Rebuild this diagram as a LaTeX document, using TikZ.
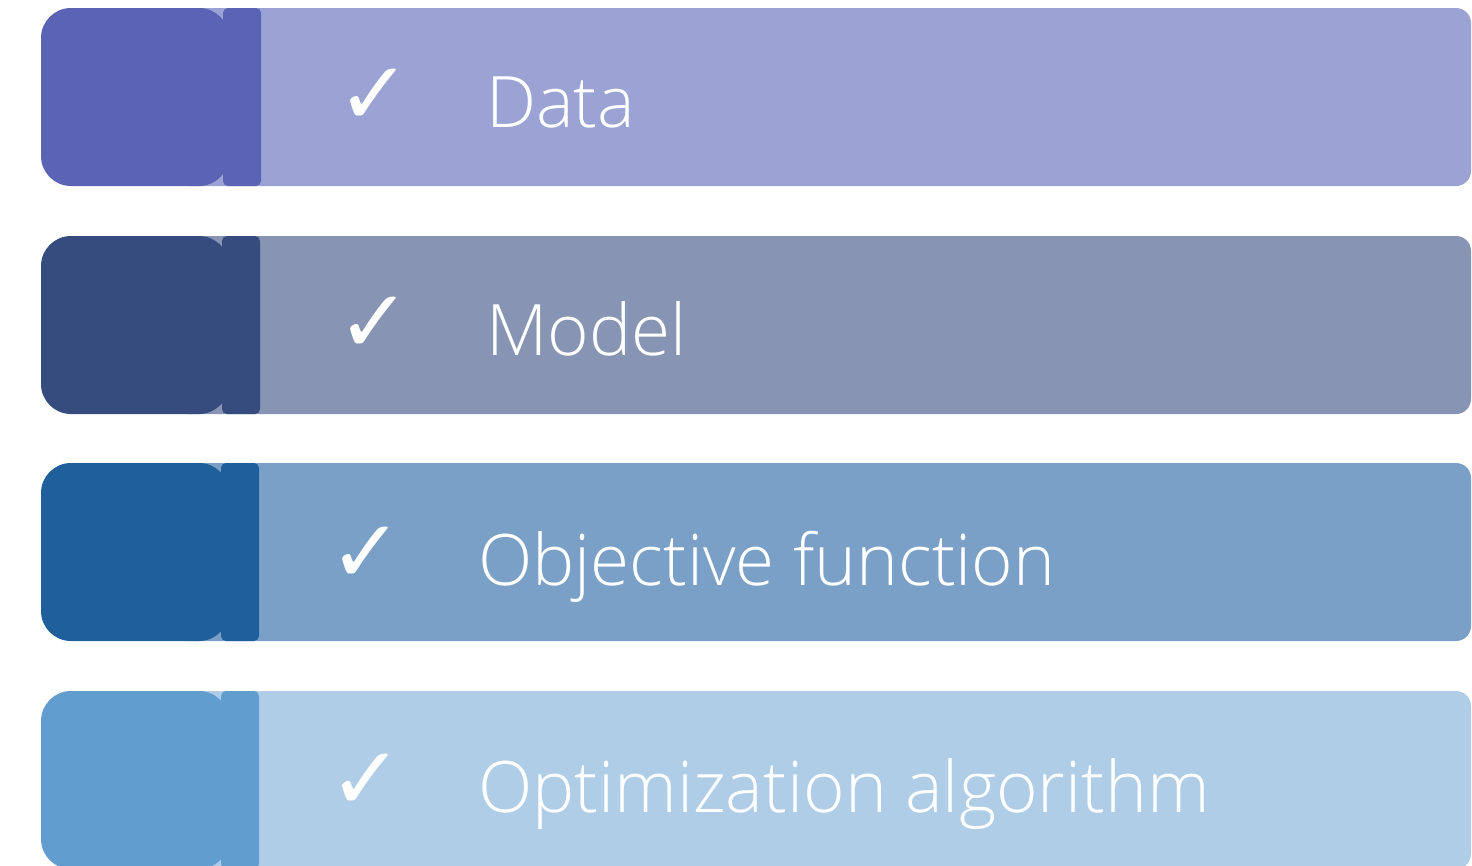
\documentclass[tikz,border=0pt]{standalone}
\usepackage{fontspec}
\setmainfont{Open Sans Light}
\newfontfamily\symf{DejaVu Sans}
\definecolor{darkA}{HTML}{5B63B5}
\definecolor{lightA}{HTML}{9BA3D4}
\definecolor{darkB}{HTML}{364B7E}
\definecolor{lightB}{HTML}{8794B3}
\definecolor{darkC}{HTML}{1F5F9C}
\definecolor{lightC}{HTML}{7AA0C7}
\definecolor{darkD}{HTML}{629DCF}
\definecolor{lightD}{HTML}{B0CDE7}
\tikzset{
  lbl/.style={anchor=base west, inner sep=0pt, text=white, font=\fontsize{71}{78}\selectfont},
  chk/.style={anchor=base west, inner sep=0pt, text=white, font=\symf\bfseries\fontsize{88}{92}\selectfont},
}
\begin{document}
\begin{tikzpicture}[x=1pt,y=-1pt]
\useasboundingbox (0,0) rectangle (1472,865);
\clip (0,0) rectangle (1472,865);
\fill[white] (0,0) rectangle (1472,865);
% row 1
\fill[lightA, rounded corners=15pt] (172,8) rectangle (1471,186);
\fill[darkA, rounded corners=30pt] (41,8) rectangle (229,186);
\fill[darkA, rounded corners=5pt] (223,8) rectangle (261,186);
\node[chk] (c1) at (337,124) {✓};
\node[lbl] (t1) at (486,127) {Data};
% row 2
\fill[lightB, rounded corners=15pt] (172,236) rectangle (1471,414);
\fill[darkB, rounded corners=30pt] (41,236) rectangle (229,414);
\fill[darkB, rounded corners=5pt] (222,236) rectangle (260,414);
\node[chk] (c2) at (337,352) {✓};
\node[lbl] (t2) at (486,355) {Model};
% row 3
\fill[lightC, rounded corners=15pt] (172,463) rectangle (1471,641);
\fill[darkC, rounded corners=30pt] (41,463) rectangle (229,641);
\fill[darkC, rounded corners=5pt] (221,463) rectangle (259,641);
\node[chk] (c3) at (329,582) {✓};
\node[lbl] (t3) at (478,585) {Objective function};
% row 4
\fill[lightD, rounded corners=15pt] (172,691) rectangle (1471,869);
\fill[darkD, rounded corners=30pt] (41,691) rectangle (229,869);
\fill[darkD, rounded corners=5pt] (221,691) rectangle (259,869);
\node[chk] (c4) at (329,809) {✓};
\node[lbl] (t4) at (478,812) {Optimization algorithm};
\end{tikzpicture}
\end{document}
